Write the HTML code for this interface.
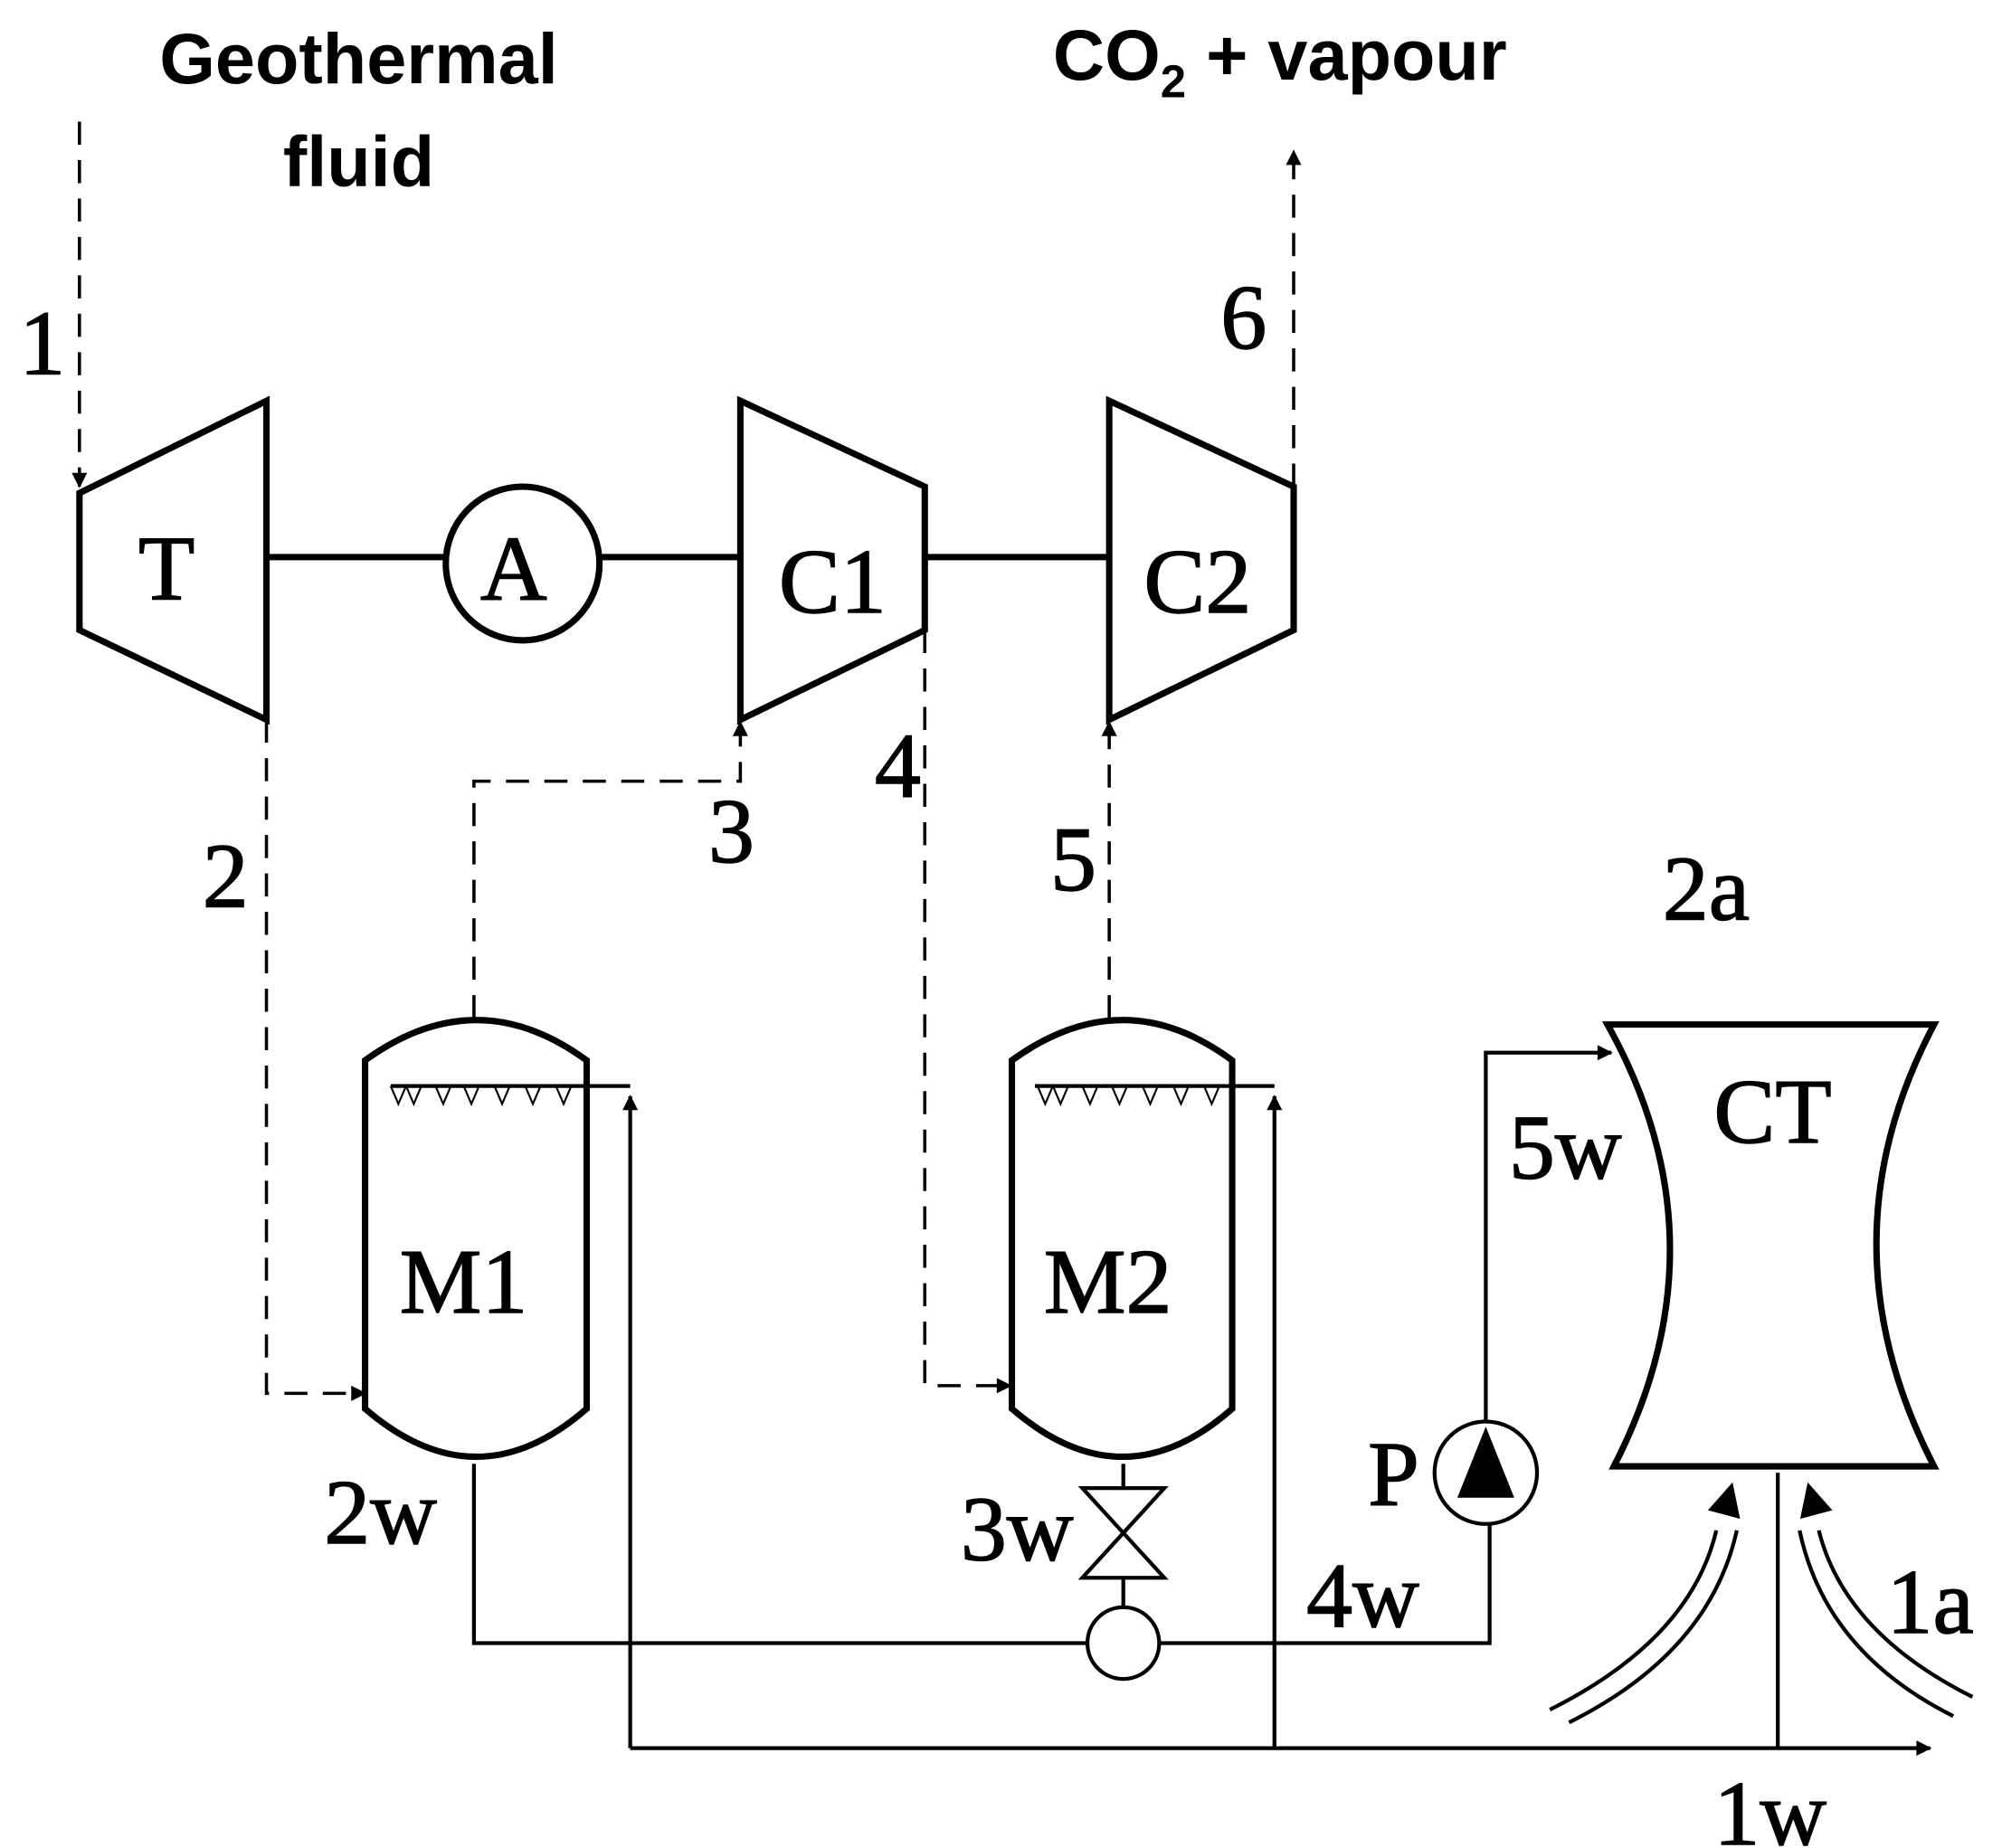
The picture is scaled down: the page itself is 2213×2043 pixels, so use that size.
<!DOCTYPE html>
<html><head><meta charset="utf-8"><style>
html,body{margin:0;padding:0;background:#fff;}
svg{display:block;}
.s{font-family:"Liberation Serif",serif;font-size:72px;fill:#000;stroke:#000;stroke-width:1;}
.b{font-family:"Liberation Sans",sans-serif;font-weight:bold;font-size:56px;fill:#000;}
</style></head><body>
<svg width="2213" height="2043" viewBox="0 0 1563 1443" xmlns="http://www.w3.org/2000/svg">
<defs>
<marker id="ar" viewBox="0 0 10 10" refX="9" refY="5" markerWidth="16" markerHeight="12" orient="auto" markerUnits="userSpaceOnUse"><path d="M0,0 L10,5 L0,10 z" fill="#000"/></marker>
<marker id="ab" viewBox="0 0 10 10" refX="9" refY="5" markerWidth="34" markerHeight="26" orient="auto" markerUnits="userSpaceOnUse"><path d="M0,0 L10,5 L0,10 z" fill="#000"/></marker>
</defs>
<g fill="none" stroke="#000">
<text class="b" x="280" y="65" text-anchor="middle" stroke="none">Geothermal</text>
<text class="b" x="280" y="145" text-anchor="middle" stroke="none">fluid</text>
<text class="b" x="822" y="62" stroke="none">CO<tspan font-size="36" dy="14">2</tspan><tspan dy="-14"> + vapour</tspan></text>

<g stroke-width="2.5" stroke-dasharray="18,12">
<path d="M62,95 V380" marker-end="url(#ar)"/>
<path d="M1010,380 V118" marker-end="url(#ar)"/>
<path d="M208,562 V1088 H285" marker-end="url(#ar)"/>
<path d="M370,795 V610 H578 V564" marker-end="url(#ar)"/>
<path d="M722,492 V1082 H789" marker-end="url(#ar)"/>
<path d="M866,795 V564" marker-end="url(#ar)"/>
</g>

<g stroke-width="5">
<polygon points="62,385 208,313 208,562 62,492"/>
<polygon points="578,313 722,380 722,492 578,562"/>
<polygon points="866,313 1010,380 1010,492 866,562"/>
<line x1="208" y1="435" x2="348" y2="435"/>
<circle cx="408" cy="440" r="60"/>
<line x1="468" y1="435" x2="578" y2="435"/>
<line x1="722" y1="435" x2="866" y2="435"/>
<path d="M285,1100 V828 Q372,765 458,828 V1100 Q372,1175 285,1100 Z"/>
<path d="M790,1100 V828 Q877,765 962,828 V1100 Q877,1175 790,1100 Z"/>
<path d="M1255,800 H1510 Q1420,970 1510,1145 H1260 Q1350,970 1255,800 Z"/>
</g>
<g stroke-width="3">
<line x1="305" y1="848" x2="492" y2="848"/>
<path d="M305,848 l6,14 l6,-14 l6,14 l6,-14 M340,848 l6,14 l6,-14 M362,848 l6,14 l6,-14 M386,848 l6,14 l6,-14 M410,848 l6,14 l6,-14 M434,848 l6,14 l6,-14" stroke-width="1.5"/>
<line x1="808" y1="848" x2="995" y2="848"/>
<path d="M810,848 l6,14 l6,-14 l6,14 l6,-14 M845,848 l6,14 l6,-14 M868,848 l6,14 l6,-14 M892,848 l6,14 l6,-14 M916,848 l6,14 l6,-14 M940,848 l6,14 l6,-14" stroke-width="1.5"/>
<path d="M492,1365 V856" marker-end="url(#ar)"/>
<path d="M995,1365 V856" marker-end="url(#ar)"/>
<path d="M492,1365 H1507" marker-end="url(#ar)"/>
<path d="M370,1143 V1283 H849"/>
<circle cx="877" cy="1283" r="28"/>
<path d="M905,1283 H1163 V1190"/>
<circle cx="1160" cy="1150" r="40"/>
<polygon points="1160,1118 1180,1168 1140,1168" fill="#000"/>
<path d="M1160,1110 V822 H1258" marker-end="url(#ar)"/>
<path d="M877,1143 V1162 M845,1162 L909,1162 L845,1232 L909,1232 Z M877,1232 V1255"/>
<line x1="1388" y1="1150" x2="1388" y2="1365"/>
<path d="M1210,1335 Q1320,1280 1340,1195 M1225,1345 Q1335,1290 1356,1195"/>
<path d="M1340,1205 L1352,1160" stroke="none" marker-end="url(#ab)"/>
<path d="M1540,1325 Q1440,1275 1420,1195 M1525,1340 Q1425,1290 1405,1195"/>
<path d="M1424,1205 L1412,1160" stroke="none" marker-end="url(#ab)"/>
</g>
</g>
<text class="s" x="15" y="292">1</text>
<text class="s" x="108" y="468">T</text>
<text class="s" x="375" y="468" font-size="66">A</text>
<text class="s" x="608" y="478">C1</text>
<text class="s" x="893" y="478">C2</text>
<text class="s" x="953" y="272">6</text>
<text class="s" x="158" y="708">2</text>
<text class="s" x="553" y="673">3</text>
<text class="s" x="683" y="622">4</text>
<text class="s" x="820" y="695">5</text>
<text class="s" x="1298" y="718">2a</text>
<text class="s" x="312" y="1025">M1</text>
<text class="s" x="815" y="1025">M2</text>
<text class="s" x="1338" y="892">CT</text>
<text class="s" x="1178" y="920">5w</text>
<text class="s" x="253" y="1205">2w</text>
<text class="s" x="750" y="1218">3w</text>
<text class="s" x="1020" y="1270">4w</text>
<text class="s" x="1068" y="1175">P</text>
<text class="s" x="1473" y="1275">1a</text>
<text class="s" x="1338" y="1440">1w</text>
</svg>
</body></html>
